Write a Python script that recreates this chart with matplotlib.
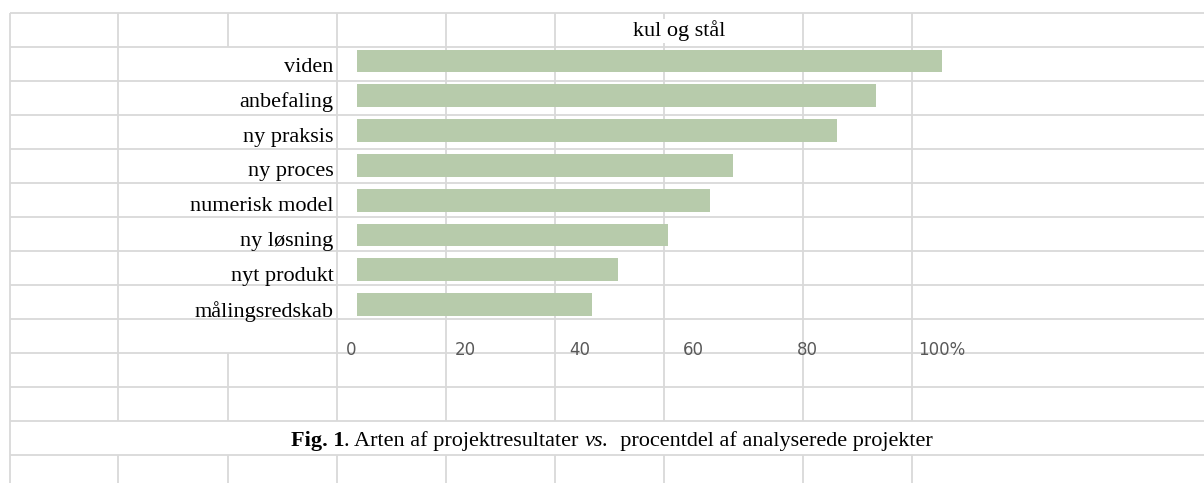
import matplotlib
matplotlib.use("Agg")
import matplotlib.pyplot as plt
import matplotlib.transforms as mtrans

# ─────────────────────────────────────────────
# DATA
# ─────────────────────────────────────────────
categories = ["viden", "anbefaling", "ny praksis", "ny proces",
              "numerisk model", "ny løsning", "nyt produkt", "målingsredskab"]
values = [102.5, 90.9, 84.0, 65.8, 61.8, 54.5, 45.7, 41.2]
tick_values = [0, 20, 40, 60, 80, 100]
tick_labels = ["0", "20", "40", "60", "80", "100%"]
title = "kul og stål"

# spreadsheet grid (pixel layout of the background sheet)
W, H = 1204, 483
row_lines = [13 + 34 * k for k in range(14)]
col_lines = [10, 118, 228, 337, 446, 555, 664, 803, 912]
GRID = "#d9d9d9"
BAR = "#b7cbab"
SERIF = "Liberation Serif"
FS = 16

fig = plt.figure(figsize=(W / 100, H / 100), dpi=100)
fig.patch.set_facecolor("white")

# ── background sheet ──────────────────────────
bg = fig.add_axes([0, 0, 1, 1])
bg.set_xlim(0, W)
bg.set_ylim(H, 0)
bg.axis("off")

bg.hlines(row_lines, col_lines[0], W, color=GRID, lw=1.3, zorder=1)
bg.vlines(col_lines[0], row_lines[0], H, color=GRID, lw=1.3, zorder=1)
for r in range(len(row_lines)):
    top = row_lines[r]
    bottom = row_lines[r + 1] if r + 1 < len(row_lines) else H
    if r == 12:          # caption row is one merged cell
        continue
    for c in col_lines[1:]:
        if 1 <= r <= 9 and c == 228:   # merged label cells
            continue
        bg.vlines(c, top, bottom, color=GRID, lw=1.3, zorder=1)

bg.text(679, 31, title, ha="center", va="center", fontsize=FS,
        family=SERIF, color="black",
        bbox=dict(facecolor="white", edgecolor="none", pad=1.5), zorder=3)

# ── bar chart ────────────────────────────────
x0, x1 = 357, 985
y0, y1 = 43.6, 322
ax = fig.add_axes([x0 / W, 1 - y1 / H, (x1 - x0) / W, (y1 - y0) / H])
ax.patch.set_alpha(0)
ax.barh(range(len(categories)), values, height=0.66, color=BAR, zorder=2)
ax.set_xlim(0, 110)
ax.set_ylim(len(categories) - 0.5, -0.5)
for s in ax.spines.values():
    s.set_visible(False)

ax.set_yticks(range(len(categories)))
ax.set_yticklabels(categories, fontsize=FS, family=SERIF, color="black")
ax.tick_params(axis="y", length=0, pad=17)
for lab in ax.get_yticklabels():
    lab.set_transform(lab.get_transform() +
                      mtrans.ScaledTranslation(0, -4 / 100, fig.dpi_scale_trans))

ax.set_xticks(tick_values)
ax.set_xticklabels(tick_labels, fontsize=12, family="DejaVu Sans", color="#595959")
ax.tick_params(axis="x", length=0, pad=14)
xl = ax.get_xticklabels()
for lab in xl[:-1]:
    lab.set_transform(lab.get_transform() +
                      mtrans.ScaledTranslation(-6 / 100, 0, fig.dpi_scale_trans))
xl[-1].set_ha("left")
xl[-1].set_transform(xl[-1].get_transform() +
                     mtrans.ScaledTranslation(-10 / 100, 0, fig.dpi_scale_trans))

# ── caption ──────────────────────────────────
cap_y = 1 - 451 / H
t1 = fig.text(291 / W, cap_y, "Fig. 1", fontsize=FS, family=SERIF,
              weight="bold", va="bottom", ha="left")
t2 = bg.annotate(". Arten af projektresultater ", xy=(1, 0), xycoords=t1,
                 fontsize=FS, family=SERIF, va="bottom", ha="left")
t3 = bg.annotate("vs.", xy=(1, 0), xycoords=t2, fontsize=FS, family=SERIF,
                 style="italic", va="bottom", ha="left")
t4 = bg.annotate("  procentdel af analyserede projekter", xy=(1, 0), xycoords=t3,
                 fontsize=FS, family=SERIF, va="bottom", ha="left")

fig.savefig("out.png", dpi=100, facecolor="white")
